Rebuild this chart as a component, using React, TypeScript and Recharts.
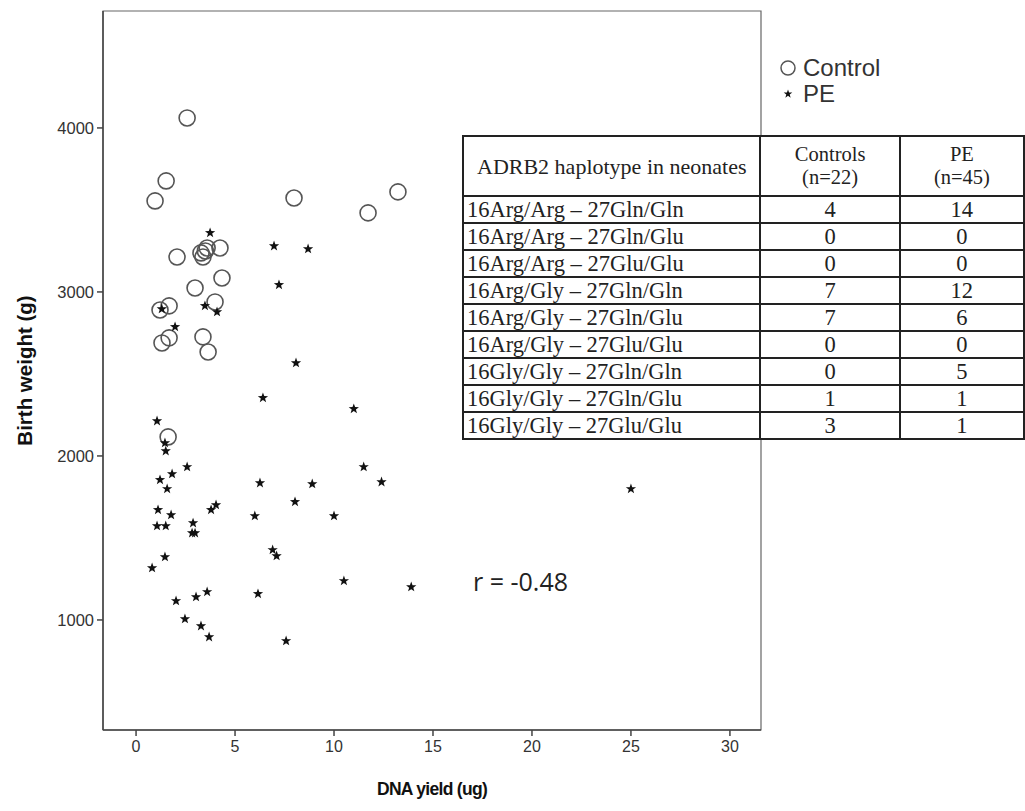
import { ScatterChart, Scatter, XAxis, YAxis, ReferenceArea } from 'recharts';

// control neonates: DNA yield (ug) vs birth weight (g)
const controlYield = [2.58, 1.52, 0.96, 7.98, 13.23, 11.72, 2.07, 3.28, 3.59, 3.38, 3.5, 4.24, 4.34, 2.98, 3.99, 1.21, 1.67, 1.31, 1.67, 3.38, 3.64, 1.62];
const controlWeight = [4061, 3677, 3555, 3573, 3610, 3482, 3213, 3238, 3268, 3213, 3250, 3268, 3085, 3024, 2939, 2890, 2915, 2689, 2720, 2726, 2634, 2116];

// PE neonates
const peYield = [3.74, 6.97, 8.69, 7.22, 1.3, 1.97, 3.48, 4.09, 8.08, 6.41, 11.0, 11.5, 12.4, 6.26, 8.9, 8.03, 6.0, 10.0, 6.9, 7.1, 10.5, 13.9, 6.16, 25.0, 7.58, 1.06, 1.46, 1.5, 2.58, 1.82, 1.21, 1.57, 1.11, 1.77, 3.79, 4.04, 1.06, 1.5, 2.88, 2.83, 2.98, 1.46, 0.81, 2.02, 3.03, 3.59, 2.47, 3.28, 3.69];
const peWeight = [3360, 3280, 3262, 3043, 2896, 2787, 2915, 2878, 2567, 2354, 2287, 1933, 1841, 1835, 1829, 1720, 1634, 1634, 1427, 1390, 1238, 1201, 1159, 1799, 872, 2213, 2079, 2030, 1933, 1890, 1854, 1799, 1671, 1640, 1671, 1701, 1573, 1573, 1591, 1530, 1530, 1384, 1317, 1116, 1140, 1171, 1006, 963, 896];

const xTicks = [0, 5, 10, 15, 20, 25, 30];
const yTicks = [1000, 2000, 3000, 4000];
const xDomain = [-1.67, 31.57];
const yDomain = [329, 4713];

// inset table
const haplotypes = [
  '16Arg/Arg – 27Gln/Gln',
  '16Arg/Arg – 27Gln/Glu',
  '16Arg/Arg – 27Glu/Glu',
  '16Arg/Gly – 27Gln/Gln',
  '16Arg/Gly – 27Gln/Glu',
  '16Arg/Gly – 27Glu/Glu',
  '16Gly/Gly – 27Gln/Gln',
  '16Gly/Gly – 27Gln/Glu',
  '16Gly/Gly – 27Glu/Glu',
];
const controlCounts = [4, 0, 0, 7, 7, 0, 0, 1, 3];
const peCounts = [14, 0, 0, 12, 6, 0, 5, 1, 1];

const controlData = controlYield.map((x, i) => ({ x, y: controlWeight[i] }));
const peData = peYield.map((x, i) => ({ x, y: peWeight[i] }));

const sans = '"Liberation Sans", Arial, sans-serif';

const Ring = (props: any) => (
  <circle cx={props.cx} cy={props.cy} r={8} fill="none" stroke="#555" strokeWidth={1.6} />
);

const starPoints = (cx: number, cy: number, R: number, r: number) => {
  const pts: string[] = [];
  for (let i = 0; i < 10; i++) {
    const rad = i % 2 === 0 ? R : r;
    const a = (-90 + i * 36) * Math.PI / 180;
    pts.push(`${cx + rad * Math.cos(a)},${cy + rad * Math.sin(a)}`);
  }
  return pts.join(' ');
};

const Star = (props: any) => (
  <polygon points={starPoints(props.cx, props.cy, 5.4, 2.2)} fill="#111" />
);

const cell = { border: '2px solid #222', padding: '0 5px', height: 25 };

export default function App() {
  return (
    <div style={{ position: 'absolute', left: 0, top: 0, width: 1025, height: 811, background: '#fff', overflow: 'hidden' }}>
      <ScatterChart width={1025} height={811} margin={{ top: 11, right: 264, bottom: 0, left: 0 }}>
        <ReferenceArea x1={xDomain[0]} x2={xDomain[1]} y1={yDomain[0]} y2={yDomain[1]} fill="none" stroke="#666" strokeWidth={1.2} />
        <XAxis
          type="number"
          dataKey="x"
          domain={xDomain}
          ticks={xTicks}
          allowDataOverflow
          height={81}
          tickSize={6}
          tickMargin={5}
          stroke="#444"
          strokeWidth={1.5}
          tick={{ fill: '#333', fontSize: 16, fontFamily: sans }}
          label={{ value: 'DNA yield (ug)', position: 'insideBottom', offset: 16, style: { fontWeight: 'bold', fontSize: 17.5, letterSpacing: -0.7, fill: '#111', fontFamily: sans } }}
        />
        <YAxis
          type="number"
          dataKey="y"
          domain={yDomain}
          ticks={yTicks}
          allowDataOverflow
          width={103}
          tickSize={6}
          tickMargin={3}
          stroke="#444"
          strokeWidth={1.5}
          tick={{ fill: '#333', fontSize: 16.5, fontFamily: sans }}
          label={{ value: 'Birth weight (g)', angle: -90, position: 'insideLeft', offset: 25, style: { textAnchor: 'middle', fontWeight: 'bold', fontSize: 20.5, fill: '#111', fontFamily: sans } }}
        />
        <Scatter name="Control" data={controlData} shape={Ring} isAnimationActive={false} />
        <Scatter name="PE" data={peData} shape={Star} isAnimationActive={false} />
      </ScatterChart>

      <div style={{ position: 'absolute', left: 779, top: 55, fontFamily: sans, fontSize: 24, color: '#333', lineHeight: '26px' }}>
        <div style={{ display: 'flex', alignItems: 'center' }}>
          <svg width={20} height={20}><circle cx={9} cy={10} r={7} fill="none" stroke="#555" strokeWidth={1.5} /></svg>
          <span style={{ marginLeft: 4 }}>Control</span>
        </div>
        <div style={{ display: 'flex', alignItems: 'center' }}>
          <svg width={20} height={20}><polygon points={starPoints(9, 10, 4.5, 1.8)} fill="#111" /></svg>
          <span style={{ marginLeft: 4 }}>PE</span>
        </div>
      </div>

      <div style={{ position: 'absolute', left: 473, top: 567, fontFamily: '"Open Sans", sans-serif', fontSize: 25, color: '#222', lineHeight: '28px' }}>
        r = -0.48
      </div>

      <table
        style={{
          position: 'absolute', left: 462, top: 135, borderCollapse: 'collapse', background: '#fff',
          fontFamily: '"Liberation Serif", "Times New Roman", serif', fontSize: 22.5, color: '#222', lineHeight: '23px',
        }}
      >
        <thead>
          <tr style={{ height: 60 }}>
            <th style={{ ...cell, width: 288, fontWeight: 'normal', textAlign: 'center', fontSize: 22 }}>ADRB2 haplotype in neonates</th>
            <th style={{ ...cell, width: 128, fontWeight: 'normal', textAlign: 'center', fontSize: 20.5 }}>Controls<br />(n=22)</th>
            <th style={{ ...cell, width: 113, fontWeight: 'normal', textAlign: 'center', fontSize: 20.5 }}>PE<br />(n=45)</th>
          </tr>
        </thead>
        <tbody>
          {haplotypes.map((h, i) => (
            <tr key={h}>
              <td style={{ ...cell, textAlign: 'left', padding: '0 3px' }}>{h}</td>
              <td style={{ ...cell, textAlign: 'center' }}>{controlCounts[i]}</td>
              <td style={{ ...cell, textAlign: 'center' }}>{peCounts[i]}</td>
            </tr>
          ))}
        </tbody>
      </table>
    </div>
  );
}
